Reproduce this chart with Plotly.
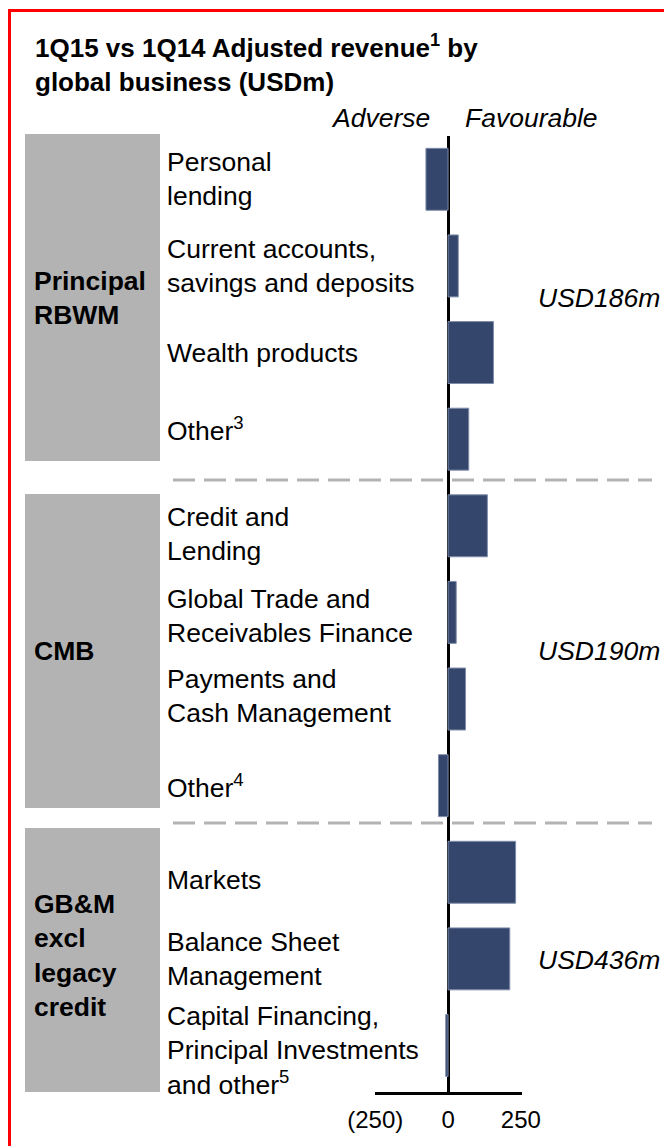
import plotly.graph_objects as go

# ---------------- data ----------------
categories = [
    "Personal<br>lending",
    "Current accounts,<br>savings and deposits",
    "Wealth products",
    "Other<sup>3</sup>",
    "Credit and<br>Lending",
    "Global Trade and<br>Receivables Finance",
    "Payments and<br>Cash Management",
    "Other<sup>4</sup>",
    "Markets",
    "Balance Sheet<br>Management",
    "Capital Financing,<br>Principal Investments<br>and other<sup>5</sup>",
]
values = [-76, 35, 156, 71, 135, 28, 60, -33, 232, 212, -8]

groups = ["Principal<br>RBWM", "CMB", "GB&M<br>excl<br>legacy<br>credit"]
group_totals = ["USD186m", "USD190m", "USD436m"]

x_ticks = [-250, 0, 250]
x_tick_labels = ["(250)", "0", "250"]

title_text = "1Q15 vs 1Q14 Adjusted revenue<sup>1</sup> by<br>global business (USDm)"

# ---------------- layout helpers (page pixel geometry) ----------------
W, H = 664, 1146
L, R, T, B = 375, 522, 136, 1092   # plot area in pixels
FONT = "Liberation Sans, Arial, sans-serif"
BAR_COLOR = "#34466B"
GREY = "#B3B3B3"
TXT = 26.5


def px(x):
    return (x - L) / (R - L)


def py(y):
    return (B - y) / (B - T)


group_boxes = [(134, 461), (494, 808), (828, 1092)]
group_label_nudge = [0, 0, 5]
divider_y = [480, 823]
label_nudge = {3: 10, 4: -8, 5: -4, 6: 3, 8: -8, 10: -5}

fig = go.Figure()
fig.add_trace(
    go.Bar(
        x=values,
        y=categories,
        orientation="h",
        marker=dict(color=BAR_COLOR, line=dict(color="#7F8DAA", width=1)),
        hoverinfo="x+y",
    )
)

shapes = []
annotations = []

# grey group boxes + labels + totals
for (y0, y1), g, tot, gn in zip(group_boxes, groups, group_totals, group_label_nudge):
    shapes.append(dict(type="rect", xref="paper", yref="paper",
                       x0=px(25), x1=px(160), y0=py(y1), y1=py(y0),
                       fillcolor=GREY, line=dict(width=0), layer="below"))
    annotations.append(dict(xref="paper", yref="paper", x=px(32), y=py((y0 + y1) / 2),
                            text="<b>" + g + "</b>", showarrow=False, yshift=gn,
                            xanchor="left", yanchor="middle", align="left",
                            font=dict(size=TXT, color="black", family=FONT)))
    annotations.append(dict(xref="paper", yref="paper", x=px(662), y=py((y0 + y1) / 2),
                            text="<i>" + tot + "</i>", showarrow=False,
                            xanchor="right", yanchor="middle", align="right",
                            font=dict(size=TXT, color="black", family=FONT)))

# dashed dividers
for yd in divider_y:
    shapes.append(dict(type="line", xref="paper", yref="paper",
                       x0=px(173), x1=px(652), y0=py(yd), y1=py(yd),
                       line=dict(color=GREY, width=3, dash="22px,9px")))

# red frame
shapes.append(dict(type="rect", xref="paper", yref="paper",
                   x0=px(9.5), x1=px(760), y0=py(1300), y1=py(10.5),
                   line=dict(color="#FF0000", width=3), fillcolor="rgba(0,0,0,0)"))

# category labels
for i, c in enumerate(categories):
    annotations.append(dict(xref="paper", yref="y", x=px(165), y=c,
                            text=c, showarrow=False, xanchor="left", yanchor="middle",
                            align="left", yshift=label_nudge.get(i, 0),
                            font=dict(size=TXT, color="black", family=FONT)))

# Adverse / Favourable
annotations.append(dict(xref="paper", yref="paper", x=px(432), y=py(118),
                        text="<i>Adverse</i>", showarrow=False, xanchor="right",
                        yanchor="middle", font=dict(size=TXT, color="black", family=FONT)))
annotations.append(dict(xref="paper", yref="paper", x=px(463), y=py(118),
                        text="<i>Favourable</i>", showarrow=False, xanchor="left",
                        yanchor="middle", font=dict(size=TXT, color="black", family=FONT)))

fig.update_layout(
    width=W, height=H,
    margin=dict(l=L, r=W - R, t=T, b=H - B, pad=0),
    paper_bgcolor="white", plot_bgcolor="white",
    font=dict(family=FONT, color="black"),
    showlegend=False,
    bargap=0.285,
    title=dict(text="<b>" + title_text + "</b>", xref="container", yref="container",
               x=35 / W, xanchor="left", y=1 - 57 / H, yanchor="middle",
               font=dict(size=26, color="black", family=FONT)),
    xaxis=dict(range=[-251, 254], tickvals=x_ticks, ticktext=x_tick_labels,
               showgrid=False, zeroline=True, zerolinecolor="black", zerolinewidth=3,
               showline=True, linecolor="black", linewidth=3, ticks="",
               ticklabelstandoff=4,
               tickfont=dict(size=24, color="black", family=FONT), fixedrange=True),
    yaxis=dict(type="category", categoryorder="array", categoryarray=categories,
               autorange="reversed", showticklabels=False, showgrid=False,
               zeroline=False, showline=False, ticks="", fixedrange=True),
    shapes=shapes,
    annotations=annotations,
)

fig.write_html(
    "out.html",
    config={"displayModeBar": False},
    post_script="document.body.style.margin='0px';"
                "document.documentElement.style.overflow='hidden';",
)
